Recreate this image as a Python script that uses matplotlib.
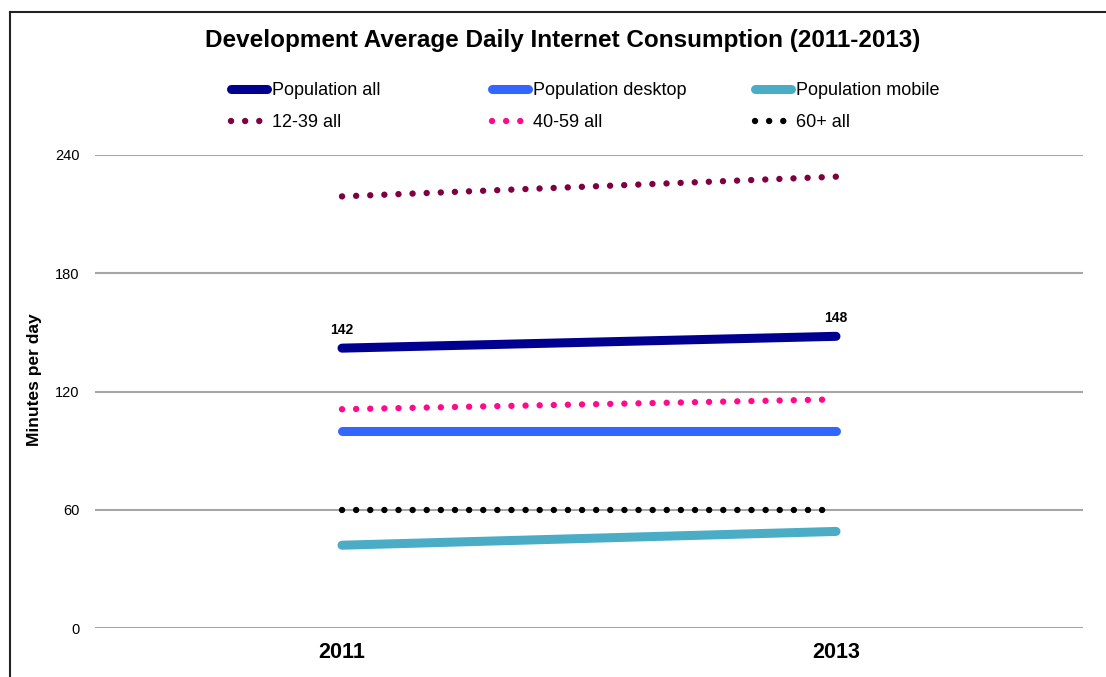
import matplotlib.pyplot as plt
from matplotlib.lines import Line2D

plt.rcParams['font.family'] = ['Liberation Sans', 'DejaVu Sans']

years = ['2011', '2013']
pop_all = [142, 148]
pop_desktop = [100, 100]
pop_mobile = [42, 49]
age_12_39 = [219, 229]
age_40_59 = [111, 116]
age_60_plus = [60, 60]

fig = plt.figure(figsize=(11.06, 6.77), dpi=100)
ax = fig.add_axes([95 / 1106, 1 - 628 / 677, (1083 - 95) / 1106, (628 - 155) / 677])

x = range(len(years))
solid = dict(lw=6.5, solid_capstyle='round')
dotted = dict(lw=4.6, linestyle=(0, (0.01, 2.2)), dash_capstyle='round')

series = [
    ('Population all', pop_all, '#000090', solid),
    ('Population desktop', pop_desktop, '#3366FF', solid),
    ('Population mobile', pop_mobile, '#4BACC6', solid),
    ('12-39 all', age_12_39, '#7F0040', dotted),
    ('40-59 all', age_40_59, '#FF0A8C', dotted),
    ('60+ all', age_60_plus, '#000000', dotted),
]
handles = {}
for name, vals, color, style in series:
    line, = ax.plot(x, vals, color=color, **style, zorder=3)
    handles[name] = line

for i, v in enumerate(pop_all):
    ax.annotate(str(v), (i, v), xytext=(0, 8), textcoords='offset points',
                ha='center', va='bottom', fontsize=10, fontweight='bold')

ax.set_xlim(-0.5, 1.5)
ax.set_ylim(0, 240)
ax.set_yticks([0, 60, 120, 180, 240])
ax.set_xticks(list(x))
ax.set_xticklabels(years, fontsize=15.5, fontweight='bold')
ax.tick_params(axis='y', length=0, labelsize=10.5, pad=11)
ax.tick_params(axis='x', length=0, pad=10)
ax.grid(axis='y', color='#A6A6A6', lw=1.5)
ax.set_axisbelow(True)
for s in ax.spines.values():
    s.set_visible(False)

# y label sits a bit above the axis centre in the original
fig.text(35 / 1106, 1 - 380 / 677, 'Minutes per day', rotation=90,
         ha='center', va='center', fontsize=12.5, fontweight='bold')

fig.text(563 / 1106, 1 - 41 / 677, 'Development Average Daily Internet Consumption (2011-2013)',
         ha='center', va='center', fontsize=17.5, fontweight='bold')

# legend: three columns, placed by hand
col_x = [231, 492, 755]
columns = [('Population all', '12-39 all'), ('Population desktop', '40-59 all'),
           ('Population mobile', '60+ all')]
for cx, names in zip(col_x, columns):
    hs = [handles[n] for n in names]
    fig.legend(hs, names, loc='upper left', bbox_to_anchor=(cx / 1106, 1 - 82 / 677),
               frameon=False, fontsize=13, handlelength=2.0, handletextpad=0.25,
               labelspacing=0.85, borderaxespad=0, borderpad=0)

# outer frame (only top and left visible in the original)
fig.add_artist(Line2D([10 / 1106, 10 / 1106], [0, 1 - 12 / 677], color='#222222', lw=1.5))
fig.add_artist(Line2D([10 / 1106, 1], [1 - 12 / 677, 1 - 12 / 677], color='#222222', lw=1.5))

fig.savefig('out.png', dpi=100)
